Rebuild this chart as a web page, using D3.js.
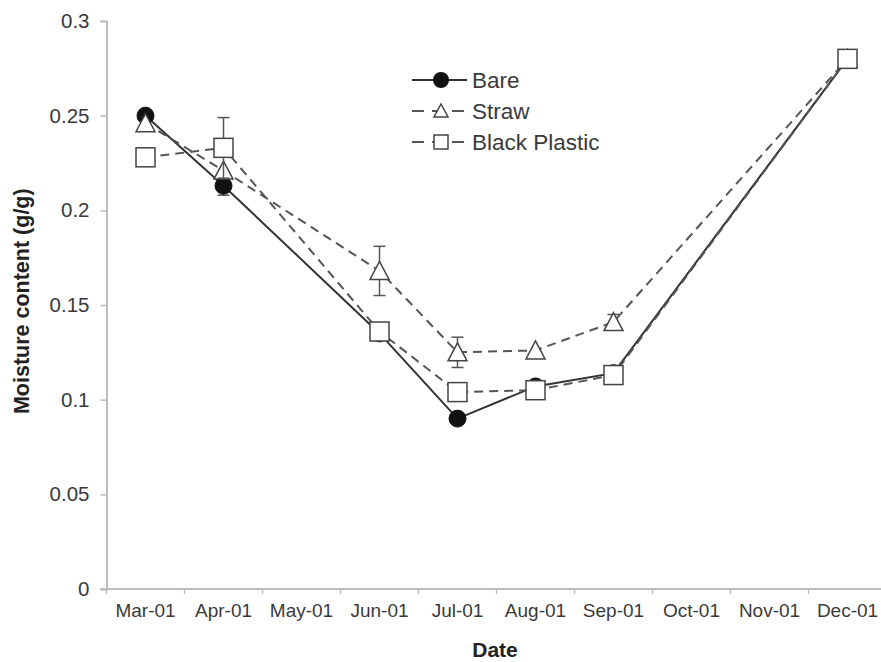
<!DOCTYPE html>
<html>
<head>
<meta charset="utf-8">
<script src="https://cdn.jsdelivr.net/npm/d3@7"></script>
<style>
  body { margin: 0; background: #fff; }
  text { font-family: "Liberation Sans", Arial, sans-serif; }
</style>
</head>
<body>
<div class="chart"></div>
<script>
// months on the category axis
var months = ['Mar-01', 'Apr-01', 'May-01', 'Jun-01', 'Jul-01', 'Aug-01', 'Sep-01', 'Oct-01', 'Nov-01', 'Dec-01'];
var yTicks = [0, 0.05, 0.1, 0.15, 0.2, 0.25, 0.3];

// moisture readings, null = not sampled
var bare    = [0.250, 0.213, null, 0.135, 0.090, 0.107, 0.114, null, null, 0.280];
var straw   = [0.246, 0.221, null, 0.168, 0.125, 0.126, 0.141, null, null, 0.280];
var plastic = [0.228, 0.233, null, 0.136, 0.104, 0.105, 0.113, null, null, 0.280];

// standard errors (0 = none drawn)
var bareErr    = [0, 0.005, 0, 0.002, 0, 0, 0, 0, 0, 0];
var strawErr   = [0, 0, 0, 0.013, 0.008, 0, 0.004, 0, 0, 0];
var plasticErr = [0, 0.016, 0, 0, 0, 0, 0, 0, 0, 0];

var fullWidth = 881, fullHeight = 662;
var margin = {top: 21, left: 106.5, bottom: 73};

var svg = d3.select('.chart').append('svg')
  .attr('width', fullWidth)
  .attr('height', fullHeight);

var xScale = d3.scaleBand()
  .domain(months)
  .range([margin.left, margin.left + 78 * months.length])
  .padding(0);

var yScale = d3.scaleLinear()
  .domain([0, 0.3])
  .range([fullHeight - margin.bottom, margin.top]);

var axisColor = '#bcbcbc';
var labelColor = '#3a3a3a';

// y axis
var yAxis = d3.axisLeft(yScale)
  .tickValues(yTicks)
  .tickFormat(function(d) { return d3.format('')(+d.toFixed(2)); })
  .tickSize(6)
  .tickPadding(11);

var yAxisEle = svg.append('g')
  .attr('transform', 'translate(' + margin.left + ',0)')
  .call(yAxis);
yAxisEle.select('.domain').attr('stroke', axisColor).attr('stroke-width', 2);
yAxisEle.selectAll('.tick line').attr('stroke', axisColor).attr('stroke-width', 1.5);
yAxisEle.selectAll('.tick text')
  .attr('fill', labelColor)
  .style('font-size', '20.5px');

// x axis, ticks between categories like the spreadsheet
var xAxisY = yScale(0);
var xg = svg.append('g').attr('class', 'x axis');
xg.append('line')
  .attr('x1', margin.left - 6).attr('x2', fullWidth + 20)
  .attr('y1', xAxisY).attr('y2', xAxisY)
  .attr('stroke', axisColor).attr('stroke-width', 2);
xg.selectAll('line.tick')
  .data(months)
  .enter().append('line')
    .attr('class', 'tick')
    .attr('x1', function(d) { return xScale(d); })
    .attr('x2', function(d) { return xScale(d); })
    .attr('y1', xAxisY).attr('y2', xAxisY + 5)
    .attr('stroke', axisColor).attr('stroke-width', 1.5);
xg.selectAll('text')
  .data(months)
  .enter().append('text')
    .attr('x', function(d) { return xScale(d) + xScale.bandwidth() / 2; })
    .attr('y', xAxisY + 28)
    .attr('text-anchor', 'middle')
    .attr('fill', labelColor)
    .style('font-size', '19px')
    .text(function(d) { return d; });

// axis titles
svg.append('text')
  .attr('x', 495).attr('y', 657)
  .attr('text-anchor', 'middle')
  .attr('fill', '#222')
  .style('font-size', '21px').style('font-weight', 'bold')
  .text('Date');

svg.append('text')
  .attr('transform', 'translate(29,' + yScale(0.152) + ') rotate(-90)')
  .attr('text-anchor', 'middle')
  .attr('fill', '#222')
  .style('font-size', '21.5px').style('font-weight', 'bold')
  .text('Moisture content (g/g)');

function cx(i) { return xScale(months[i]) + xScale.bandwidth() / 2; }

var series = [
  {name: 'Bare', values: bare, err: bareErr, dash: null, shape: 'circle'},
  {name: 'Straw', values: straw, err: strawErr, dash: '9,6', shape: 'triangle'},
  {name: 'Black Plastic', values: plastic, err: plasticErr, dash: '9,6', shape: 'square'}
];

function drawMarker(g, shape) {
  if (shape === 'circle') {
    g.append('circle').attr('r', 8.5).attr('fill', '#111').attr('stroke', '#111');
  } else if (shape === 'triangle') {
    g.append('path').attr('d', 'M0,-9.5L9.5,8.5L-9.5,8.5Z')
      .attr('fill', '#fff').attr('stroke', '#444').attr('stroke-width', 1.5);
  } else {
    g.append('rect').attr('x', -9.5).attr('y', -9.5).attr('width', 19).attr('height', 19)
      .attr('fill', '#fff').attr('stroke', '#444').attr('stroke-width', 1.5);
  }
}

series.forEach(function(s) {
  var pts = s.values.map(function(v, i) { return {v: v, i: i, e: s.err[i]}; })
    .filter(function(d) { return d.v != null; });

  var g = svg.append('g');

  g.append('path')
    .datum(pts)
    .attr('fill', 'none')
    .attr('stroke', s.dash ? '#555' : '#333')
    .attr('stroke-width', 2)
    .attr('stroke-dasharray', s.dash)
    .attr('d', d3.line()
      .x(function(d) { return cx(d.i); })
      .y(function(d) { return yScale(d.v); }));

  // error bars
  var eb = g.selectAll('g.err')
    .data(pts.filter(function(d) { return d.e > 0; }))
    .enter().append('g').attr('class', 'err');
  eb.append('line')
    .attr('x1', function(d) { return cx(d.i); })
    .attr('x2', function(d) { return cx(d.i); })
    .attr('y1', function(d) { return yScale(d.v - d.e); })
    .attr('y2', function(d) { return yScale(d.v + d.e); })
    .attr('stroke', '#555').attr('stroke-width', 1.5);
  [-1, 1].forEach(function(sign) {
    eb.append('line')
      .attr('x1', function(d) { return cx(d.i) - 6; })
      .attr('x2', function(d) { return cx(d.i) + 6; })
      .attr('y1', function(d) { return yScale(d.v + sign * d.e); })
      .attr('y2', function(d) { return yScale(d.v + sign * d.e); })
      .attr('stroke', '#555').attr('stroke-width', 1.5);
  });

  g.selectAll('g.pt')
    .data(pts)
    .enter().append('g')
      .attr('class', 'pt')
      .attr('transform', function(d) { return 'translate(' + cx(d.i) + ',' + yScale(d.v) + ')'; })
      .each(function() { drawMarker(d3.select(this), s.shape); });
});

// legend
var legend = svg.append('g').attr('transform', 'translate(412,80)');
series.forEach(function(s, k) {
  var row = legend.append('g').attr('transform', 'translate(0,' + (k * 31) + ')');
  row.append('line')
    .attr('x1', 0).attr('x2', 55)
    .attr('stroke', s.dash ? '#555' : '#333')
    .attr('stroke-width', 2)
    .attr('stroke-dasharray', s.dash ? '12,8' : null);
  var m = row.append('g').attr('transform', 'translate(29,0)');
  if (s.shape === 'circle') {
    m.append('circle').attr('r', 8).attr('fill', '#111');
  } else if (s.shape === 'triangle') {
    m.append('path').attr('d', 'M0,-7L7,6L-7,6Z').attr('fill', '#fff').attr('stroke', '#444').attr('stroke-width', 1.5);
  } else {
    m.append('rect').attr('x', -7).attr('y', -7).attr('width', 14).attr('height', 14)
      .attr('fill', '#fff').attr('stroke', '#444').attr('stroke-width', 1.5);
  }
  row.append('text')
    .attr('x', 60).attr('y', 7.5)
    .attr('fill', labelColor)
    .style('font-size', '22.5px')
    .text(s.name);
});
</script>
</body>
</html>
